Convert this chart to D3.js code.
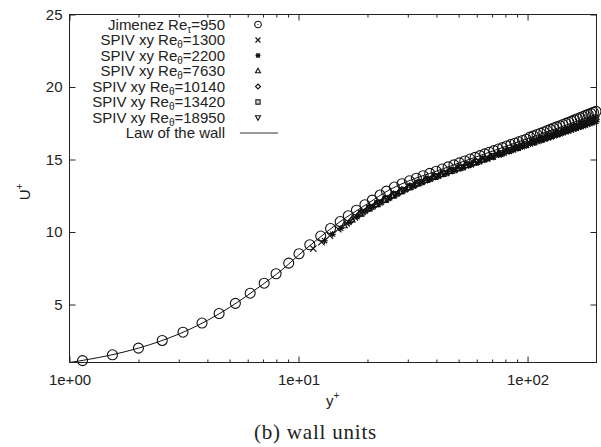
<!DOCTYPE html>
<html>
<head>
	<meta charset="utf-8">
	<title>U+ en unités de paroi</title>
	<style>
		html, body { margin:0; padding:0; background:#fff; }
		body { font-family: "Liberation Sans", Arial, Helvetica, sans-serif; }
		.ax text { font-size: 15px; fill: #222; font-family: "Liberation Sans", Arial, sans-serif; }
		.ax line { stroke: #222; stroke-width: 1px; }
		.ax path { display: none; }
		.mk { fill: none; stroke: #111; stroke-width: 1.1px; }
		.lg { font-size: 15px; fill: #222; }
		#frame { fill: none; stroke: #222; stroke-width: 1px; }
		#caption { font-family: "Liberation Serif", "Times New Roman", serif; font-size: 21px; fill: #222; }
	</style>
	<script src="https://d3js.org/d3.v7.min.js"></script>
</head>
<body>
<svg id="chart"></svg>
<script>

	//axes ticks
	var xMajor = [1, 10, 100],
		xLabels = ["1e+00", "1e+01", "1e+02"],
		xMinor = [2, 3, 4, 5, 6, 7, 8, 9, 20, 30, 40, 50, 60, 70, 80, 90],
		yTicks = [5, 10, 15, 20, 25];

	//Jimenez DNS Re_tau=950
	var jimY = [1.14, 1.54, 2.0, 2.54, 3.13, 3.79, 4.5, 5.3, 6.15, 7.08, 7.98, 9.06, 10.05, 11.2, 12.5, 13.8, 15.2, 16.5, 17.9, 19.5,
		21.0, 22.7, 24.2, 26.2, 28.3, 30.5, 32.7, 35.0, 37.4, 39.9, 42.4, 45.0, 47.7, 50.4, 53.2, 56.1, 59.0, 62.0, 65.0, 68.1,
		71.3, 74.5, 77.8, 81.1, 84.5, 88.0, 91.5, 95.1, 98.7, 102.4, 106.2, 110.0, 113.9, 117.8, 121.8, 125.9, 130.0, 134.2, 138.4, 142.7,
		147.1, 151.5, 156.0, 160.5, 165.1, 169.8, 174.5, 179.3, 184.1, 189.0, 194.0, 199.0];
	var jimU = [1.13, 1.53, 1.99, 2.52, 3.09, 3.72, 4.38, 5.08, 5.78, 6.47, 7.12, 7.85, 8.5, 9.12, 9.72, 10.24, 10.72, 11.12, 11.5, 11.88,
		12.2, 12.55, 12.82, 13.1, 13.33, 13.53, 13.71, 13.88, 14.04, 14.19, 14.34, 14.49, 14.63, 14.77, 14.9, 15.03, 15.15, 15.27, 15.39, 15.5,
		15.61, 15.72, 15.82, 15.93, 16.03, 16.12, 16.22, 16.31, 16.4, 16.54, 16.63, 16.72, 16.81, 16.9, 16.99, 17.08, 17.17, 17.25, 17.33, 17.41,
		17.49, 17.57, 17.65, 17.73, 17.81, 17.89, 17.97, 18.04, 18.11, 18.18, 18.25, 18.32];

	//SPIV xy profiles
	var s1300Y = [11.6, 12.6, 13.7, 14.9, 16.2, 17.6, 19.1, 20.8, 22.6, 24.6, 26.7, 29.0, 31.5, 34.2, 37.2, 40.4, 43.9, 47.7, 51.8, 56.3,
		61.2, 66.5, 70, 73.5, 77, 80.5, 84, 87.5, 91, 94.5, 98, 101.5, 105, 108.5, 112, 115.5, 119, 122.5, 126, 129.5,
		133, 136.5, 140, 143.5, 147, 150.5, 154, 157.5, 161, 164.5, 168, 171.5, 175, 178.5, 182, 185.5, 189, 192.5, 196, 199.5];
	var s1300U = [8.85, 9.3, 9.75, 10.2, 10.6, 11.0, 11.4, 11.75, 12.05, 12.35, 12.65, 12.95, 13.2, 13.45, 13.67, 13.88, 14.08, 14.28, 14.48, 14.68,
		14.88, 15.08, 15.22, 15.40, 15.45, 15.62, 15.66, 15.82, 15.86, 16.01, 16.03, 16.18, 16.2, 16.34, 16.35, 16.48, 16.49, 16.62, 16.63, 16.76,
		16.76, 16.88, 16.88, 17.0, 17.0, 17.12, 17.11, 17.22, 17.21, 17.32, 17.31, 17.42, 17.41, 17.52, 17.5, 17.61, 17.6, 17.7, 17.68, 17.78];
	var s2200Y = [13.0, 14.1, 15.3, 16.6, 18.0, 19.5, 21.2, 23.0, 25.0, 27.1, 29.4, 31.9, 34.7, 37.7, 40.9, 44.4, 48.2, 52.4, 56.9, 61.8,
		67.1, 71, 75, 79, 83, 87, 91, 95, 99, 103, 107, 111, 115, 119, 123, 127, 131, 135, 139, 143,
		147, 151, 155, 159, 163, 167, 171, 175, 179, 183, 187, 191, 195, 199];
	var s2200U = [9.4, 9.85, 10.25, 10.65, 11.05, 11.42, 11.75, 12.05, 12.35, 12.65, 12.93, 13.18, 13.43, 13.65, 13.85, 14.05, 14.25, 14.45, 14.65, 14.85,
		15.05, 15.17, 15.3, 15.43, 15.54, 15.66, 15.77, 15.87, 15.97, 16.06, 16.15, 16.24, 16.32, 16.4, 16.48, 16.56, 16.64, 16.7, 16.77, 16.84,
		16.91, 16.97, 17.03, 17.09, 17.15, 17.21, 17.26, 17.32, 17.37, 17.43, 17.48, 17.53, 17.58, 17.63];
	var s7630Y = [15.8, 17.1, 18.6, 20.2, 21.9, 23.8, 25.8, 28.0, 30.4, 33.0, 35.8, 38.9, 42.2, 45.8, 49.8, 54.0, 58.7, 63.7, 69.2, 75.1,
		81.6, 88.6, 96.2, 104.5, 113.4, 123.2, 133.8, 145.3, 157.8, 171.3, 186.1];
	var s7630U = [10.45, 10.85, 11.25, 11.6, 11.9, 12.2, 12.5, 12.8, 13.08, 13.35, 13.58, 13.8, 14.0, 14.2, 14.4, 14.6, 14.8, 15.0, 15.2, 15.4,
		15.6, 15.8, 16.0, 16.2, 16.4, 16.6, 16.8, 17.0, 17.2, 17.4, 17.62];
	var s10140Y = [17.0, 18.4, 20.0, 21.7, 23.6, 25.6, 27.8, 30.2, 32.8, 35.6, 38.6, 41.9, 45.5, 49.4, 53.6, 58.2, 63.2, 68.6, 74.5, 80.9,
		87.8, 95.3, 103.5, 112.4, 122.0, 132.5, 143.8, 156.2, 169.6, 184.1, 199.0];
	var s10140U = [10.8, 11.2, 11.55, 11.88, 12.2, 12.5, 12.78, 13.05, 13.3, 13.55, 13.77, 13.98, 14.18, 14.38, 14.58, 14.78, 14.98, 15.18, 15.38, 15.58,
		15.78, 15.98, 16.18, 16.38, 16.58, 16.78, 16.98, 17.18, 17.38, 17.58, 17.78];
	var s13420Y = [18.8, 20.4, 22.1, 24.0, 26.1, 28.3, 30.8, 33.4, 36.3, 39.4, 42.8, 46.5, 50.5, 54.8, 59.5, 64.6, 70.2, 76.2, 82.8, 89.9,
		97.6, 106.0, 115.1, 125.0, 135.7, 147.4, 160.0, 173.8, 188.7];
	var s13420U = [11.3, 11.65, 11.95, 12.25, 12.55, 12.85, 13.12, 13.38, 13.6, 13.82, 14.02, 14.22, 14.42, 14.62, 14.82, 15.02, 15.22, 15.42, 15.62, 15.82,
		16.02, 16.22, 16.42, 16.62, 16.82, 17.02, 17.22, 17.42, 17.64];
	var s18950Y = [20.5, 22.3, 24.2, 26.3, 28.5, 31.0, 33.6, 36.5, 39.7, 43.1, 46.8, 50.8, 55.2, 59.9, 65.1, 70.7, 76.8, 83.4, 90.5, 98.3,
		106.8, 116.0, 126.0, 136.8, 148.6, 161.3, 175.2, 190.3];
	var s18950U = [11.68, 12.0, 12.3, 12.6, 12.88, 13.15, 13.4, 13.63, 13.85, 14.05, 14.25, 14.45, 14.65, 14.85, 15.05, 15.25, 15.45, 15.65, 15.85, 16.05,
		16.25, 16.45, 16.65, 16.85, 17.05, 17.25, 17.45, 17.68];

	//law of the wall
	var lawY = [1, 1.5, 2, 2.5, 3, 4, 5, 6, 7, 8, 9, 10, 12, 15, 20, 25, 30, 40, 50, 70, 100, 150, 200];
	var lawU = [1.0, 1.5, 1.99, 2.48, 2.96, 3.9, 4.8, 5.64, 6.4, 7.08, 7.75, 8.4, 9.45, 10.65, 11.95, 12.92, 13.5, 14.2, 14.75, 15.57, 16.44, 17.42, 18.13];

	var W = 601, H = 447;
	var svg = d3.select("#chart").attr("width", W).attr("height", H);
	svg.append("rect").attr("width", W).attr("height", H).attr("fill", "#fff");

	var x = d3.scaleLog().domain([1, 200]).range([69.5, 596.5]),
		y = d3.scaleLinear().domain([1, 25]).range([362.5, 14.5]);

	//marker shapes
	function shape(type, r) {
		var p = d3.path();
		if (type == "circle") { p.moveTo(r, 0); p.arc(0, 0, r, 0, 2 * Math.PI); }
		if (type == "cross") { p.moveTo(-r, -r); p.lineTo(r, r); p.moveTo(-r, r); p.lineTo(r, -r); }
		if (type == "star") {
			var q = r * 0.8;
			p.moveTo(-q, -q); p.lineTo(q, q); p.moveTo(-q, q); p.lineTo(q, -q);
			p.moveTo(-r, 0); p.lineTo(r, 0); p.moveTo(0, -r); p.lineTo(0, r);
		}
		if (type == "tri") { p.moveTo(0, -r * 1.1); p.lineTo(r, r * 0.7); p.lineTo(-r, r * 0.7); p.closePath(); }
		if (type == "diamond") { p.moveTo(0, -r); p.lineTo(r, 0); p.lineTo(0, r); p.lineTo(-r, 0); p.closePath(); }
		if (type == "square") { p.rect(-r * 0.85, -r * 0.85, r * 1.7, r * 1.7); }
		if (type == "tridown") { p.moveTo(0, r * 1.1); p.lineTo(r, -r * 0.7); p.lineTo(-r, -r * 0.7); p.closePath(); }
		return p.toString();
	}

	var series = [
		{ xs: s1300Y, us: s1300U, type: "cross", val: "1300" },
		{ xs: s2200Y, us: s2200U, type: "star", val: "2200" },
		{ xs: s7630Y, us: s7630U, type: "tri", val: "7630" },
		{ xs: s10140Y, us: s10140U, type: "diamond", val: "10140" },
		{ xs: s13420Y, us: s13420U, type: "square", val: "13420" },
		{ xs: s18950Y, us: s18950U, type: "tridown", val: "18950" }
	];

	var g = svg.append("g");

	//Jimenez circles
	g.append("g").selectAll("path").data(d3.zip(jimY, jimU)).enter()
		.append("path").attr("class", "mk")
		.attr("transform", function(d) { return "translate(" + x(d[0]) + "," + y(d[1]) + ")"; })
		.attr("d", shape("circle", 5));

	//SPIV
	series.forEach(function(s) {
		g.append("g").selectAll("path").data(d3.zip(s.xs, s.us)).enter()
			.append("path").attr("class", "mk")
			.attr("transform", function(d) { return "translate(" + x(d[0]) + "," + y(d[1]) + ")"; })
			.attr("d", shape(s.type, 3.2));
	});

	//law of the wall
	var line = d3.line().x(function(d) { return x(d[0]); }).y(function(d) { return y(d[1]); }).curve(d3.curveMonotoneX);
	g.append("path").datum(d3.zip(lawY, lawU)).attr("d", line)
		.attr("fill", "none").attr("stroke", "#111").attr("stroke-width", 1);

	//axes
	svg.append("g").attr("class", "ax").attr("transform", "translate(0,362.5)")
		.call(d3.axisBottom(x).tickValues(xMajor).tickFormat(function(d, i) { return xLabels[i]; })
			.tickSizeInner(-6).tickSizeOuter(0).tickPadding(12));
	svg.append("g").attr("class", "ax").attr("transform", "translate(0,362.5)")
		.call(d3.axisBottom(x).tickValues(xMinor).tickFormat("").tickSizeInner(-3).tickSizeOuter(0));
	svg.append("g").attr("class", "ax").attr("transform", "translate(0,14.5)")
		.call(d3.axisTop(x).tickValues(xMajor).tickFormat("").tickSizeInner(-6).tickSizeOuter(0));
	svg.append("g").attr("class", "ax").attr("transform", "translate(0,14.5)")
		.call(d3.axisTop(x).tickValues(xMinor).tickFormat("").tickSizeInner(-3).tickSizeOuter(0));
	svg.append("g").attr("class", "ax").attr("transform", "translate(69.5,0)")
		.call(d3.axisLeft(y).tickValues(yTicks).tickSizeInner(-6).tickSizeOuter(0).tickPadding(7));
	svg.append("g").attr("class", "ax").attr("transform", "translate(596.5,0)")
		.call(d3.axisRight(y).tickValues(yTicks).tickFormat("").tickSizeInner(-6).tickSizeOuter(0));

	svg.append("rect").attr("id", "frame").attr("x", 69.5).attr("y", 14.5).attr("width", 527).attr("height", 348);

	//axis titles
	var yl = svg.append("text").attr("class", "lg").attr("transform", "translate(30,192) rotate(-90)").attr("text-anchor", "middle");
	yl.append("tspan").text("U");
	yl.append("tspan").attr("font-size", "10px").attr("dy", -7).text("+");
	var xl = svg.append("text").attr("class", "lg").attr("x", 326).attr("y", 406);
	xl.append("tspan").text("y");
	xl.append("tspan").attr("font-size", "10px").attr("dy", -7).text("+");

	//legend
	var lg = svg.append("g");
	var rows = [{ name: "Jimenez Re", sub: "\u03c4", val: "950", type: "circle" }].concat(
		series.map(function(s) { return { name: "SPIV xy Re", sub: "\u03b8", val: s.val, type: s.type }; }));
	rows.forEach(function(r, i) {
		var by = 29.5 + i * 15.5;
		var t = lg.append("text").attr("class", "lg").attr("x", 225).attr("y", by).attr("text-anchor", "end");
		t.append("tspan").text(r.name);
		t.append("tspan").attr("font-size", "10px").attr("dy", 3).text(r.sub);
		t.append("tspan").attr("dy", -3).text("=" + r.val);
		lg.append("path").attr("class", "mk").attr("transform", "translate(258," + (by - 5) + ")")
			.attr("d", shape(r.type, r.type == "circle" ? 3.3 : 2.5));
		if (r.type == "circle" || r.type == "square")
			lg.append("circle").attr("cx", 258).attr("cy", by - 5).attr("r", 0.6).attr("fill", "#111");
	});
	var ly = 29.5 + 7 * 15.5;
	lg.append("text").attr("class", "lg").attr("x", 225).attr("y", ly).attr("text-anchor", "end").text("Law of the wall");
	lg.append("line").attr("x1", 240).attr("x2", 278).attr("y1", ly - 5).attr("y2", ly - 5)
		.attr("stroke", "#333").attr("stroke-width", 1);

	//caption
	svg.append("text").attr("id", "caption").attr("x", 315.5).attr("y", 439).attr("text-anchor", "middle")
		.attr("letter-spacing", "0.8px").text("(b) wall units");

</script>
</body>
</html>
